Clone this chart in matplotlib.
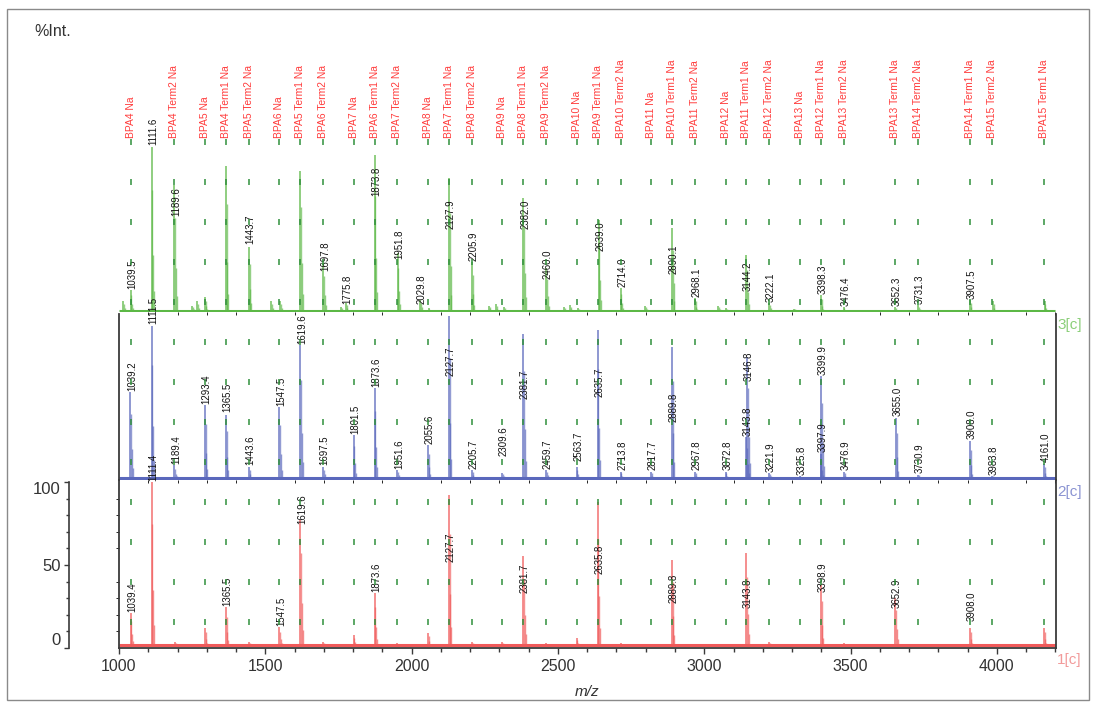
import matplotlib
matplotlib.use("Agg")
import matplotlib.pyplot as plt
from matplotlib.lines import Line2D
from matplotlib.patches import Rectangle
from matplotlib.transforms import blended_transform_factory
from matplotlib.ticker import MultipleLocator, FixedLocator

plt.rcParams["font.family"] = ["Liberation Sans", "DejaVu Sans"]
plt.rcParams["lines.scale_dashes"] = False

# ---------------- data ----------------
# assigned ion series (m/z) and their names
ann_names = [
    "BPA4 Na", "BPA4 Term2 Na", "BPA5 Na", "BPA4 Term1 Na", "BPA5 Term2 Na",
    "BPA6 Na", "BPA5 Term1 Na", "BPA6 Term2 Na", "BPA7 Na", "BPA6 Term1 Na",
    "BPA7 Term2 Na", "BPA8 Na", "BPA7 Term1 Na", "BPA8 Term2 Na", "BPA9 Na",
    "BPA8 Term1 Na", "BPA9 Term2 Na", "BPA10 Na", "BPA9 Term1 Na", "BPA10 Term2 Na",
    "BPA11 Na", "BPA10 Term1 Na", "BPA11 Term2 Na", "BPA12 Na", "BPA11 Term1 Na",
    "BPA12 Term2 Na", "BPA13 Na", "BPA12 Term1 Na", "BPA13 Term2 Na", "BPA13 Term1 Na",
    "BPA14 Term2 Na", "BPA14 Term1 Na", "BPA15 Term2 Na", "BPA15 Term1 Na",
]
ann_mz = [
    1039.3, 1189.5, 1293.4, 1365.5, 1443.6,
    1547.5, 1619.6, 1697.6, 1801.5, 1873.6,
    1951.7, 2055.6, 2127.7, 2205.8, 2309.6,
    2381.7, 2459.8, 2563.7, 2635.7, 2713.8,
    2817.7, 2889.8, 2967.9, 3072.8, 3143.8,
    3221.9, 3325.8, 3397.9, 3476.6, 3652.9,
    3730.9, 3908.0, 3983.8, 4161.0,
]

# spectrum 3[c] (green) - labelled peaks
g_mz = [1039.5, 1111.6, 1189.6, 1443.7, 1697.8, 1775.8, 1873.8, 1951.8, 2029.8,
        2127.9, 2205.9, 2382.0, 2460.0, 2639.0, 2714.0, 2890.1, 2968.1, 3144.2,
        3222.1, 3398.3, 3476.4, 3652.3, 3731.3, 3907.5]
g_int = [13.3, 99.5, 76.5, 39.0, 29.5, 5.4, 94.6, 35.5, 7.2,
         80.7, 30.0, 68.7, 26.5, 55.4, 14.5, 50.6, 8.4, 34.3,
         5.4, 10.2, 3.0, 3.0, 4.2, 7.2]
# height at which each green peak label sits
g_lab = [13.3, 99.5, 57.0, 40.0, 24.0, 4.2, 69.0, 31.0, 4.2,
         49.0, 30.0, 49.0, 19.0, 36.0, 14.5, 22.0, 8.4, 12.0,
         5.4, 10.0, 3.0, 3.0, 4.2, 7.2]
# spectrum 3[c] - unlabelled peaks
g_mz_minor = [1014, 1250, 1267, 1294, 1365.6, 1520, 1551, 1619.7, 1760, 2058,
              2264, 2288, 2315, 2520, 2541, 2568, 2798, 3048, 3075, 3308, 3986, 4163]
g_int_minor = [6.6, 3.6, 6.6, 9.0, 88.0, 6.6, 6.6, 85.0, 3.0, 2.4,
               3.6, 4.8, 3.0, 3.0, 4.2, 2.4, 3.6, 3.6, 2.4, 2.0, 6.6, 6.6]

# spectrum 2[c] (blue) - labelled peaks
b_mz = [1039.2, 1111.5, 1189.4, 1293.4, 1365.5, 1443.6, 1547.5, 1619.6, 1697.5,
        1801.5, 1873.6, 1951.6, 2055.6, 2127.7, 2205.7, 2309.6, 2381.7, 2459.7,
        2563.7, 2635.7, 2713.8, 2817.7, 2889.8, 2967.8, 3072.8, 3143.8, 3146.8,
        3221.9, 3325.8, 3397.9, 3399.9, 3476.9, 3655.0, 3730.9, 3908.0, 3983.8,
        4161.0]
b_int = [53.5, 94.0, 9.0, 45.6, 39.5, 8.0, 44.4, 82.0, 8.0,
         27.4, 56.0, 6.0, 21.3, 100.0, 6.0, 4.3, 89.0, 6.0,
         8.0, 91.0, 5.0, 5.0, 81.0, 5.0, 5.0, 26.0, 75.0,
         4.3, 2.5, 16.0, 63.0, 5.0, 38.0, 3.3, 24.0, 2.5,
         10.0]
b_lab = [53.5, 94.0, 9.0, 45.6, 40.7, 8.0, 44.4, 82.0, 8.0,
         27.4, 56.0, 6.0, 21.3, 62.6, 6.0, 14.0, 48.6, 6.0,
         10.5, 49.9, 5.0, 5.0, 34.7, 5.0, 5.0, 26.0, 59.6,
         4.3, 2.5, 16.0, 63.0, 5.0, 38.0, 3.3, 24.0, 2.5,
         10.3]

# spectrum 1[c] (red) - labelled peaks
r_mz = [1039.4, 1111.4, 1365.5, 1547.5, 1619.6, 1873.6, 2127.7, 2381.7,
        2635.8, 2889.8, 3143.8, 3398.9, 3652.9, 3908.0]
r_int = [21.0, 100.0, 24.7, 12.7, 77.0, 33.0, 92.0, 55.4,
         88.0, 53.0, 57.0, 38.0, 30.0, 12.0]
r_lab = [21.0, 100.0, 24.7, 12.7, 74.0, 33.0, 51.0, 32.0,
         44.0, 26.0, 23.0, 33.0, 23.0, 15.7]
# spectrum 1[c] - unlabelled peaks
r_mz_minor = [1192, 1293.4, 1443.6, 1697.5, 1801.5, 1951.6, 2055.6, 2205.7, 2309.6,
              2459.7, 2563.7, 2713.8, 2967.8, 3221.9, 3476.9, 4161.0]
r_int_minor = [3.5, 12.0, 3.6, 3.6, 7.8, 3.0, 9.0, 3.6, 3.6,
               3.0, 6.0, 3.0, 2.5, 3.6, 3.0, 12.0]

x_ticks = [1000, 1500, 2000, 2500, 3000, 3500, 4000]
y_ticks = [0, 50, 100]

# ---------------- layout ----------------
W, H = 1094, 711
fig = plt.figure(figsize=(W / 100, H / 100), dpi=100)
fig.patch.set_facecolor("white")

X0, X1 = 119, 1056
XMIN, XMAX = 1000, 4202


def frac_box(top_px, bottom_px):
    return [X0 / W, 1 - bottom_px / H, (X1 - X0) / W, (bottom_px - top_px) / H]


ax_g = fig.add_axes(frac_box(146, 312))
ax_b = fig.add_axes(frac_box(314, 480), sharex=ax_g)
ax_r = fig.add_axes(frac_box(480, 648), sharex=ax_g)

GREEN = "#5cb846"
BLUE = "#5a68bc"
RED = "#f05a5a"
FRAME = "#3a3a3a"

# stick profile of one peak: (m/z shift, fraction of height)
PROFILE = [(0.0, 1.0), (2.5, 0.74), (5.0, 0.34), (8.0, 0.12)]


def draw_peaks(ax, mz, inten, base, color):
    for dx, f in PROFILE:
        xs = [m + dx for m in mz]
        tops = [base + f * (v - base) for v in inten]
        ax.vlines(xs, base, tops, color=color, lw=1.0 if dx else 1.2,
                  alpha=0.8 if dx == 0 else 0.65, zorder=2)


def label_peaks(ax, mz, levels):
    for m, v in zip(mz, levels):
        ax.annotate(f"{m:.1f}", xy=(m, v), xytext=(1.2, 1.0),
                    textcoords="offset points", rotation=90, ha="center",
                    va="bottom", fontsize=6.9, color="#111111",
                    annotation_clip=False, zorder=6)


for ax in (ax_g, ax_b, ax_r):
    ax.set_xlim(XMIN, XMAX)
    ax.patch.set_alpha(0)
    ax.tick_params(left=False, labelleft=False, right=False, labelright=False,
                   top=False, labeltop=False, bottom=False, labelbottom=False)
    for s in ax.spines.values():
        s.set_visible(False)

# green panel
ax_g.set_ylim(0, 100)
g_base = 0.6
ax_g.hlines(g_base, XMIN, XMAX - 2, color=GREEN, lw=2.2, zorder=2)
draw_peaks(ax_g, g_mz_minor, g_int_minor, g_base, GREEN)
draw_peaks(ax_g, g_mz, g_int, g_base, GREEN)
label_peaks(ax_g, g_mz, g_lab)

# blue panel
ax_b.set_ylim(0, 101)
b_base = 1.2
ax_b.hlines(b_base, XMIN, XMAX, color=BLUE, lw=2.2, zorder=2)
draw_peaks(ax_b, b_mz, b_int, b_base, BLUE)
label_peaks(ax_b, b_mz, b_lab)
for side in ("left", "right"):
    ax_b.spines[side].set_visible(True)
    ax_b.spines[side].set_color(FRAME)
    ax_b.spines[side].set_linewidth(1.3)

# red panel
ax_r.set_ylim(0, 101.2)
r_base = 1.8
ax_r.hlines(r_base, XMIN, XMAX, color=RED, lw=2.2, zorder=2)
draw_peaks(ax_r, r_mz_minor, r_int_minor, r_base, RED)
draw_peaks(ax_r, r_mz, r_int, r_base, RED)
label_peaks(ax_r, r_mz, r_lab)
for side in ("left", "right", "bottom"):
    ax_r.spines[side].set_visible(True)
    ax_r.spines[side].set_color(FRAME)
    ax_r.spines[side].set_linewidth(1.3)
ax_r.xaxis.set_major_locator(FixedLocator(x_ticks))
ax_r.xaxis.set_minor_locator(MultipleLocator(100))
ax_r.tick_params(axis="x", which="both", bottom=True, labelbottom=True,
                 direction="out", colors=FRAME, labelcolor="#333333")
ax_r.tick_params(axis="x", which="major", length=4.0, width=1.0,
                 labelsize=11.5, pad=4)
ax_r.tick_params(axis="x", which="minor", length=2.8, width=1.0)
ax_r.set_xlabel("m/z", fontsize=11, style="italic", color="#333333", labelpad=8)

# intensity scale bracket on the left
ax_s = fig.add_axes(frac_box(480, 648), sharey=ax_r)
ax_s.patch.set_alpha(0)
for side in ("right", "top", "bottom"):
    ax_s.spines[side].set_visible(False)
ax_s.spines["left"].set_position(("outward", 36))
ax_s.spines["left"].set_bounds(0, 100)
ax_s.spines["left"].set_color(FRAME)
ax_s.spines["left"].set_linewidth(1.2)
ax_s.set_xticks([])
ax_s.yaxis.set_major_locator(FixedLocator(y_ticks))
ax_s.yaxis.set_minor_locator(MultipleLocator(10))
ax_s.tick_params(axis="y", which="major", direction="out", length=3.8, width=1.0,
                 labelsize=12, pad=2, colors=FRAME, labelcolor="#333333")
ax_s.tick_params(axis="y", which="minor", direction="out", length=2.4, width=1.0,
                 colors=FRAME)
fig.canvas.draw()
for lab in ax_s.get_yticklabels():
    if lab.get_text() == "100":
        lab.set_va("top")
    elif lab.get_text() == "0":
        lab.set_va("bottom")

# assignment markers: dashed guides through all panels and names on top
trans = blended_transform_factory(ax_r.transData, fig.transFigure)
y_top = 1 - 139 / H
y_bot = 1 - 629 / H
for name, m in zip(ann_names, ann_mz):
    ln = Line2D([m, m], [y_top, y_bot], transform=trans, color="#2f8f3a",
                lw=1.1, dashes=(4.3, 24.5), zorder=7)
    fig.add_artist(ln)
    fig.text(m, y_top + 1 / H, name, transform=trans, rotation=90,
             ha="center", va="bottom", fontsize=7.4, color="#ff3c3c", zorder=7)

# panel tags
fig.text(1057 / W, 1 - 325 / H, "3[c]", color="#8ccf7a", fontsize=11,
         ha="left", va="center")
fig.text(1057 / W, 1 - 492 / H, "2[c]", color="#8a93d2", fontsize=11,
         ha="left", va="center")
fig.text(1057 / W, 1 - 660 / H, "1[c]", color="#f29a9a", fontsize=11,
         ha="left", va="center")

fig.text(34 / W, 1 - 32 / H, "%Int.", fontsize=11.5, color="#333333",
         ha="left", va="center")

# outer frame
fig.add_artist(Rectangle((7 / W, 1 - 700 / H), (1089 - 7) / W, (700 - 9) / H,
                         transform=fig.transFigure, fill=False,
                         edgecolor="#8a8a8a", lw=1.0, zorder=0))

fig.savefig("out.png", dpi=100, facecolor="white")
